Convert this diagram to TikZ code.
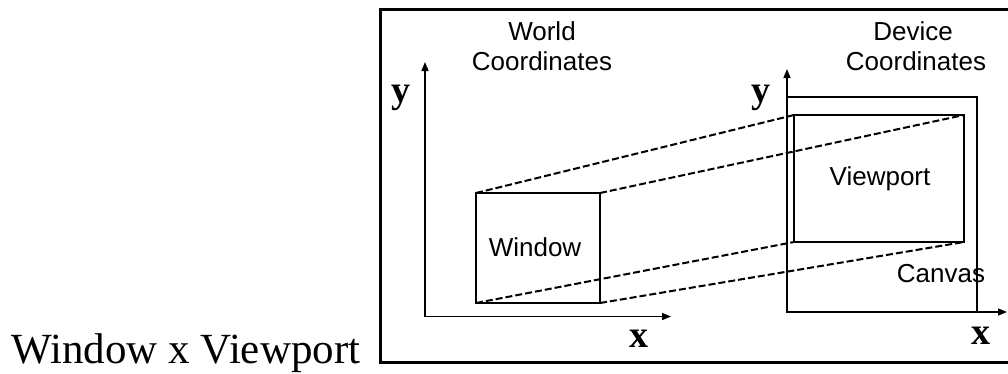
\documentclass[tikz,border=0pt]{standalone}
\usepackage{fontspec}
\setmainfont{Liberation Serif}
\newfontfamily\labfont{Liberation Sans}
\usetikzlibrary{arrows.meta}
\begin{document}
\begin{tikzpicture}[x=1pt,y=-1pt,
  lab/.style={font=\labfont\fontsize{26}{30}\selectfont, inner sep=0pt, anchor=base},
  axlab/.style={font=\bfseries\fontsize{38}{38}\selectfont, inner sep=0pt, anchor=base},
  box/.style={draw, line width=1.5pt, inner sep=0pt, outer sep=0pt},
  axis/.style={line width=1.5pt, {Triangle[length=9pt,width=7pt]}-{Triangle[length=9pt,width=7pt]}},
  proj/.style={line width=2pt, dash pattern=on 7pt off 3pt},
  frame/.style={line width=3pt}]
\useasboundingbox (0,0) rectangle (1008,373);
% frame
\coordinate (ftr) at (1012,9.5);
\coordinate (ftl) at (380.5,9.5);
\coordinate (fbl) at (380.5,362.5);
\coordinate (fbr) at (1012,362.5);
\draw[frame] (ftr) -- (ftl) -- (fbl) -- (fbr);
% caption
\node[font=\fontsize{43}{43}\selectfont, inner sep=0pt, anchor=base west] (cap) at (11,363) {Window x Viewport};
% world axes
\coordinate (wyt) at (425,62);
\coordinate (wxt) at (671,316.5);
\draw[axis] (wyt) |- (wxt);
% device canvas and axes
\node[box, minimum width=190pt, minimum height=215pt] (canvas) at (882,204.5) {};
\coordinate (dyt) at (787,69);
\coordinate (dxt) at (1007,312);
\draw[axis] (dyt) |- (dxt);
% window and viewport
\node[box, minimum width=124pt, minimum height=110pt] (win) at (538,248) {};
\node[box, minimum width=170pt, minimum height=127pt] (vp) at (879,178.5) {};
% projection lines
\draw[proj] (win.north west) -- (vp.north west);
\draw[proj] (win.north east) -- (vp.north east);
\draw[proj] (win.south west) -- (vp.south west);
\draw[proj] (win.south east) -- (vp.south east);
% labels
\node[lab] (world) at (542,40) {World};
\node[lab] (wcoord) at (542,70) {Coordinates};
\node[lab] (device) at (913,40) {Device};
\node[lab] (dcoord) at (916,70) {Coordinates};
\node[lab] (wintext) at (535,256) {Window};
\node[lab] (vptext) at (880,185) {Viewport};
\node[lab] (cantext) at (941,282) {Canvas};
\node[axlab] (wy) at (401,102) {y};
\node[axlab] (wx) at (639,347) {x};
\node[axlab] (dy) at (761,102) {y};
\node[axlab] (dx) at (981,344) {x};
\end{tikzpicture}
\end{document}
